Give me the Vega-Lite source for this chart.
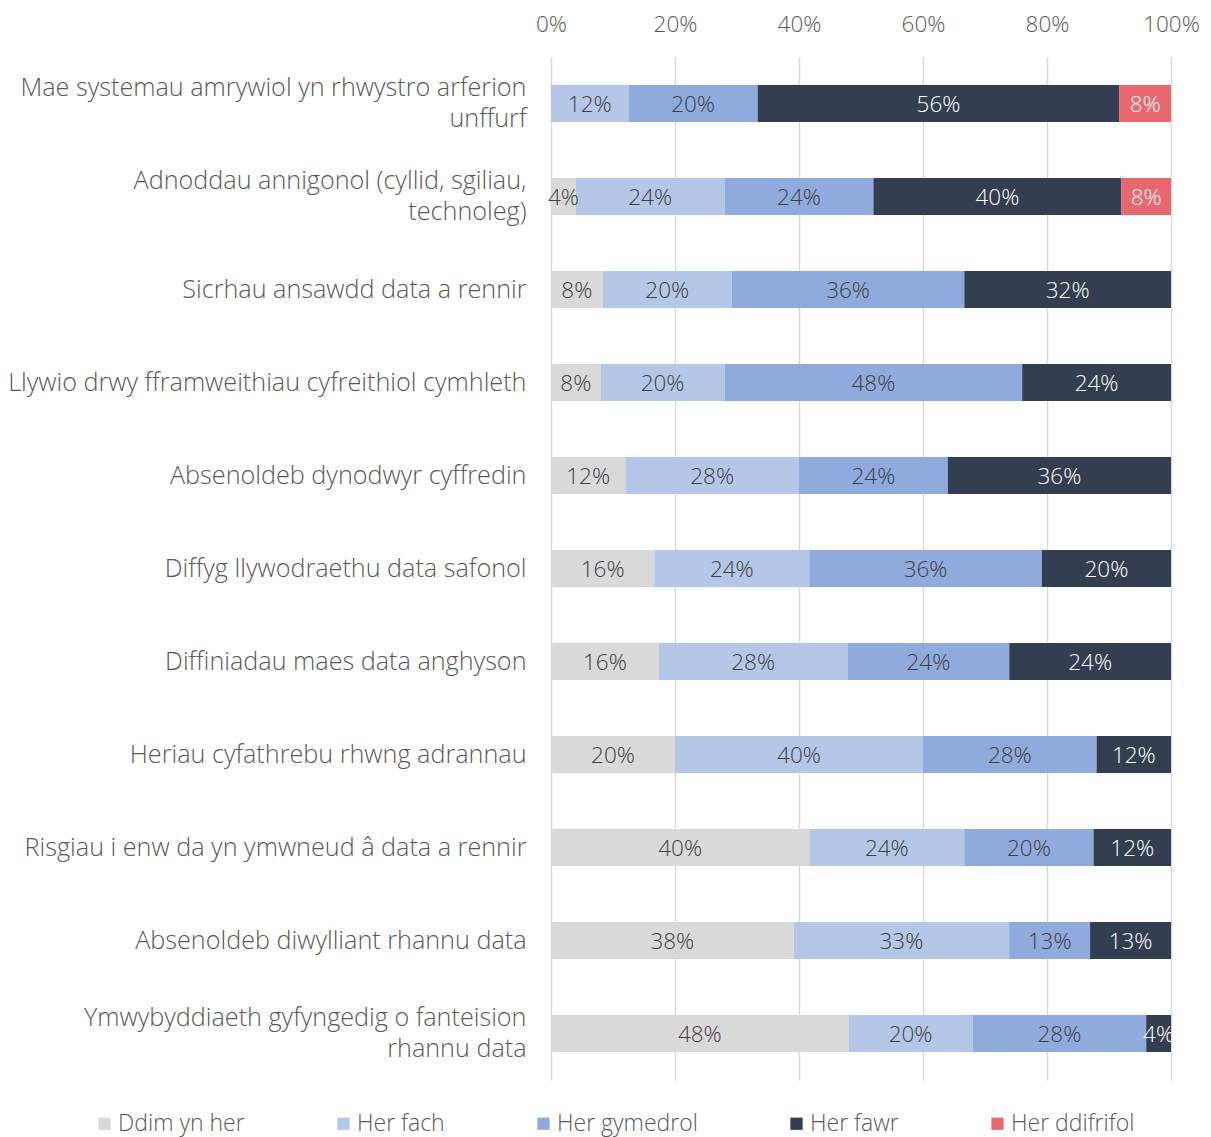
{
  "$schema": "https://vega.github.io/schema/vega-lite/v6.json",
  "width": 620,
  "height": 1023,
  "autosize": {"type": "none"},
  "padding": {"left": 551, "top": 57, "right": 40, "bottom": 57},
  "background": "white",
  "config": {
    "view": {"stroke": null},
    "font": "Open Sans",
    "axis": {"labelFont": "Open Sans", "labelFontWeight": 300},
    "legend": {"labelFont": "Open Sans", "labelFontWeight": 300}
  },
  "data": {
    "values": [
      {"q": "Mae systemau amrywiol yn rhwystro arferion|unffurf", "level": "Her fach", "k": 2, "v": 12, "lab": "12%"},
      {"q": "Mae systemau amrywiol yn rhwystro arferion|unffurf", "level": "Her gymedrol", "k": 3, "v": 20, "lab": "20%"},
      {"q": "Mae systemau amrywiol yn rhwystro arferion|unffurf", "level": "Her fawr", "k": 4, "v": 56, "lab": "56%"},
      {"q": "Mae systemau amrywiol yn rhwystro arferion|unffurf", "level": "Her ddifrifol", "k": 5, "v": 8, "lab": "8%"},
      {"q": "Adnoddau annigonol (cyllid, sgiliau,|technoleg)", "level": "Ddim yn her", "k": 1, "v": 4, "lab": "4%"},
      {"q": "Adnoddau annigonol (cyllid, sgiliau,|technoleg)", "level": "Her fach", "k": 2, "v": 24, "lab": "24%"},
      {"q": "Adnoddau annigonol (cyllid, sgiliau,|technoleg)", "level": "Her gymedrol", "k": 3, "v": 24, "lab": "24%"},
      {"q": "Adnoddau annigonol (cyllid, sgiliau,|technoleg)", "level": "Her fawr", "k": 4, "v": 40, "lab": "40%"},
      {"q": "Adnoddau annigonol (cyllid, sgiliau,|technoleg)", "level": "Her ddifrifol", "k": 5, "v": 8, "lab": "8%"},
      {"q": "Sicrhau ansawdd data a rennir", "level": "Ddim yn her", "k": 1, "v": 8, "lab": "8%"},
      {"q": "Sicrhau ansawdd data a rennir", "level": "Her fach", "k": 2, "v": 20, "lab": "20%"},
      {"q": "Sicrhau ansawdd data a rennir", "level": "Her gymedrol", "k": 3, "v": 36, "lab": "36%"},
      {"q": "Sicrhau ansawdd data a rennir", "level": "Her fawr", "k": 4, "v": 32, "lab": "32%"},
      {"q": "Llywio drwy fframweithiau cyfreithiol cymhleth", "level": "Ddim yn her", "k": 1, "v": 8, "lab": "8%"},
      {"q": "Llywio drwy fframweithiau cyfreithiol cymhleth", "level": "Her fach", "k": 2, "v": 20, "lab": "20%"},
      {"q": "Llywio drwy fframweithiau cyfreithiol cymhleth", "level": "Her gymedrol", "k": 3, "v": 48, "lab": "48%"},
      {"q": "Llywio drwy fframweithiau cyfreithiol cymhleth", "level": "Her fawr", "k": 4, "v": 24, "lab": "24%"},
      {"q": "Absenoldeb dynodwyr cyffredin", "level": "Ddim yn her", "k": 1, "v": 12, "lab": "12%"},
      {"q": "Absenoldeb dynodwyr cyffredin", "level": "Her fach", "k": 2, "v": 28, "lab": "28%"},
      {"q": "Absenoldeb dynodwyr cyffredin", "level": "Her gymedrol", "k": 3, "v": 24, "lab": "24%"},
      {"q": "Absenoldeb dynodwyr cyffredin", "level": "Her fawr", "k": 4, "v": 36, "lab": "36%"},
      {"q": "Diffyg llywodraethu data safonol", "level": "Ddim yn her", "k": 1, "v": 16, "lab": "16%"},
      {"q": "Diffyg llywodraethu data safonol", "level": "Her fach", "k": 2, "v": 24, "lab": "24%"},
      {"q": "Diffyg llywodraethu data safonol", "level": "Her gymedrol", "k": 3, "v": 36, "lab": "36%"},
      {"q": "Diffyg llywodraethu data safonol", "level": "Her fawr", "k": 4, "v": 20, "lab": "20%"},
      {"q": "Diffiniadau maes data anghyson", "level": "Ddim yn her", "k": 1, "v": 16, "lab": "16%"},
      {"q": "Diffiniadau maes data anghyson", "level": "Her fach", "k": 2, "v": 28, "lab": "28%"},
      {"q": "Diffiniadau maes data anghyson", "level": "Her gymedrol", "k": 3, "v": 24, "lab": "24%"},
      {"q": "Diffiniadau maes data anghyson", "level": "Her fawr", "k": 4, "v": 24, "lab": "24%"},
      {"q": "Heriau cyfathrebu rhwng adrannau", "level": "Ddim yn her", "k": 1, "v": 20, "lab": "20%"},
      {"q": "Heriau cyfathrebu rhwng adrannau", "level": "Her fach", "k": 2, "v": 40, "lab": "40%"},
      {"q": "Heriau cyfathrebu rhwng adrannau", "level": "Her gymedrol", "k": 3, "v": 28, "lab": "28%"},
      {"q": "Heriau cyfathrebu rhwng adrannau", "level": "Her fawr", "k": 4, "v": 12, "lab": "12%"},
      {"q": "Risgiau i enw da yn ymwneud â data a rennir", "level": "Ddim yn her", "k": 1, "v": 40, "lab": "40%"},
      {"q": "Risgiau i enw da yn ymwneud â data a rennir", "level": "Her fach", "k": 2, "v": 24, "lab": "24%"},
      {"q": "Risgiau i enw da yn ymwneud â data a rennir", "level": "Her gymedrol", "k": 3, "v": 20, "lab": "20%"},
      {"q": "Risgiau i enw da yn ymwneud â data a rennir", "level": "Her fawr", "k": 4, "v": 12, "lab": "12%"},
      {"q": "Absenoldeb diwylliant rhannu data", "level": "Ddim yn her", "k": 1, "v": 37.5, "lab": "38%"},
      {"q": "Absenoldeb diwylliant rhannu data", "level": "Her fach", "k": 2, "v": 33.3, "lab": "33%"},
      {"q": "Absenoldeb diwylliant rhannu data", "level": "Her gymedrol", "k": 3, "v": 12.5, "lab": "13%"},
      {"q": "Absenoldeb diwylliant rhannu data", "level": "Her fawr", "k": 4, "v": 12.5, "lab": "13%"},
      {"q": "Ymwybyddiaeth gyfyngedig o fanteision|rhannu data", "level": "Ddim yn her", "k": 1, "v": 48, "lab": "48%"},
      {"q": "Ymwybyddiaeth gyfyngedig o fanteision|rhannu data", "level": "Her fach", "k": 2, "v": 20, "lab": "20%"},
      {"q": "Ymwybyddiaeth gyfyngedig o fanteision|rhannu data", "level": "Her gymedrol", "k": 3, "v": 28, "lab": "28%"},
      {"q": "Ymwybyddiaeth gyfyngedig o fanteision|rhannu data", "level": "Her fawr", "k": 4, "v": 4, "lab": "4%"}
    ]
  },
  "transform": [
    {"stack": "v", "groupby": ["q"], "sort": [{"field": "k", "order": "ascending"}], "offset": "normalize", "as": ["s0", "s1"]},
    {"calculate": "(datum.s0 + datum.s1) / 2", "as": "mid"}
  ],
  "encoding": {
    "y": {
      "field": "q",
      "type": "nominal",
      "sort": null,
      "title": null,
      "scale": {"paddingInner": 0.6, "paddingOuter": 0.3},
      "axis": {
        "labelExpr": "split(datum.label, '|')",
        "labelFontSize": 25.2,
        "labelColor": "#595959",
        "labelPadding": 25,
        "labelLimit": 700,
        "labelLineHeight": 31,
        "labelOffset": {"condition": {"test": "indexof(datum.value, '|') >= 0", "value": -15.5}, "value": 0},
        "ticks": false,
        "domain": false,
        "grid": false
      }
    }
  },
  "layer": [
    {
      "mark": {"type": "bar"},
      "encoding": {
        "x": {
          "field": "s0",
          "type": "quantitative",
          "scale": {"domain": [0, 1], "nice": false},
          "title": null,
          "axis": {
            "orient": "top",
            "format": ".0%",
            "values": [0, 0.2, 0.4, 0.6, 0.8, 1],
            "labelFontSize": 22.5,
            "labelColor": "#595959",
            "labelPadding": 21,
            "labelFlush": false,
            "ticks": false,
            "domain": false,
            "grid": true,
            "gridColor": "#D9D9D9",
            "gridWidth": 1.5
          }
        },
        "x2": {"field": "s1"},
        "color": {
          "field": "level",
          "type": "nominal",
          "sort": ["Ddim yn her", "Her fach", "Her gymedrol", "Her fawr", "Her ddifrifol"],
          "scale": {
            "domain": ["Ddim yn her", "Her fach", "Her gymedrol", "Her fawr", "Her ddifrifol"],
            "range": ["#D9D9D9", "#B4C7E7", "#8FAADC", "#333F50", "#E9686F"]
          },
          "legend": {
            "title": null,
            "orient": "none",
            "direction": "horizontal",
            "legendX": -458,
            "legendY": 1055,
            "symbolType": "square",
            "symbolSize": 150,
            "symbolStrokeWidth": 0,
            "labelFontSize": 23,
            "labelColor": "#595959",
            "labelOffset": 2,
            "columnPadding": 87
          }
        }
      }
    },
    {
      "mark": {"type": "text", "align": "center", "baseline": "middle", "fontSize": 22.5, "fontWeight": 300, "dy": 1},
      "encoding": {
        "x": {"field": "mid", "type": "quantitative"},
        "text": {"field": "lab"},
        "color": {
          "condition": {"test": "datum.k >= 4", "value": "#FFFFFF"},
          "value": "#404040"
        }
      }
    }
  ]
}
